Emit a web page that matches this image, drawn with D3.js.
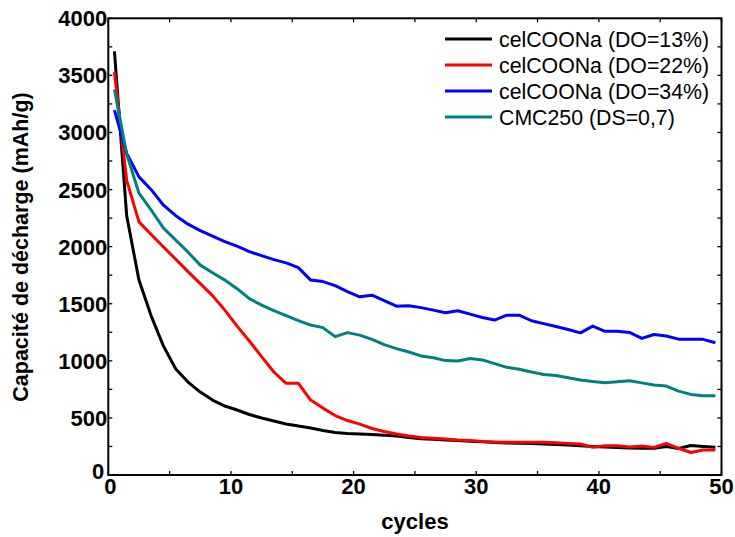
<!DOCTYPE html>
<html><head><meta charset="utf-8">
<script src="https://cdn.jsdelivr.net/npm/d3@7"></script>
<style>body{margin:0;background:#fff}svg{display:block}</style>
</head><body><svg id="c" width="735" height="537"></svg>
<script>
const cycles = [0.5,1.5,2.5,3.5,4.5,5.5,6.5,7.5,8.5,9.5,10.5,11.5,12.5,13.5,14.5,15.5,16.5,17.5,18.5,19.5,20.5,21.5,22.5,23.5,24.5,25.5,26.5,27.5,28.5,29.5,30.5,31.5,32.5,33.5,34.5,35.5,36.5,37.5,38.5,39.5,40.5,41.5,42.5,43.5,44.5,45.5,46.5,47.5,48.5,49.5];
const seriesNames = ["celCOONa (DO=13%)","celCOONa (DO=22%)","celCOONa (DO=34%)","CMC250 (DS=0,7)"];
const do13 = [3711,2270,1707,1392,1129,928,814,726,656,604,569,530,499,473,446,429,411,390,372,363,359,354,348,341,328,318,312,306,302,295,291,284,280,277,276,271,267,263,256,249,245,241,236,234,234,249,232,258,249,242];
const do22 = [3530,2580,2217,2106,1997,1890,1781,1676,1571,1444,1304,1173,1037,902,803,803,656,586,521,477,446,407,381,359,341,328,321,315,306,302,293,289,286,286,286,286,282,277,271,242,256,256,245,254,242,277,234,197,219,219];
const do34 = [3195,2816,2611,2499,2363,2271,2197,2140,2092,2044,2004,1956,1921,1886,1858,1816,1707,1694,1659,1606,1561,1575,1527,1479,1482,1466,1444,1421,1438,1409,1379,1357,1400,1400,1351,1326,1300,1274,1245,1304,1258,1260,1249,1196,1231,1217,1190,1190,1188,1158];
const cmc250 = [3376,2810,2468,2320,2162,2057,1952,1838,1772,1707,1632,1545,1488,1440,1396,1352,1313,1291,1212,1247,1225,1188,1142,1107,1077,1043,1027,1002,998,1021,1008,976,943,926,902,881,871,852,832,818,808,817,825,807,788,779,735,706,694,694];
const colors = ["#000000","#ff0000","#0000ff","#008080"];
const xTicks = [0,10,20,30,40,50];
const yTicks = [0,500,1000,1500,2000,2500,3000,3500,4000];
const xLabel = "cycles";
const yLabel = "Capacité de décharge (mAh/g)";

const seriesData = [do13, do22, do34, cmc250];
const L = 108.3, R = 721.5, T = 18.3, B = 475;
const svg = d3.select("#c");
const x = d3.scaleLinear().domain([0,50]).range([L,R]);
const y = d3.scaleLinear().domain([0,4000]).range([B,T]);
const font = "Arial, 'Liberation Sans', sans-serif";

// lines
const line = d3.line().x((d,i)=>x(cycles[i])).y(d=>y(d));
seriesData.forEach((s,k)=>{
  svg.append("path").datum(s).attr("d",line).attr("fill","none")
    .attr("stroke",colors[k]).attr("stroke-width",3).attr("stroke-linejoin","round");
});

// frame
svg.append("rect").attr("x",L).attr("y",T).attr("width",R-L).attr("height",B-T)
  .attr("fill","none").attr("stroke","#000").attr("stroke-width",2);

// inward ticks
const g = svg.append("g").attr("stroke","#000").attr("stroke-width",1.3);
d3.range(0,4001,250).forEach(v=>{
  g.append("line").attr("x1",L).attr("x2",L+4).attr("y1",y(v)).attr("y2",y(v));
  g.append("line").attr("x1",R).attr("x2",R-4).attr("y1",y(v)).attr("y2",y(v));
});
d3.range(0,51,5).forEach(v=>{
  g.append("line").attr("x1",x(v)).attr("x2",x(v)).attr("y1",B).attr("y2",B-4);
  g.append("line").attr("x1",x(v)).attr("x2",x(v)).attr("y1",T).attr("y2",T+4);
});

// tick labels
svg.selectAll(".yt").data(yTicks).enter().append("text")
  .attr("x",d=>d===0?L-4:L-1).attr("y",d=>y(d)+(d===0?4:8)).attr("text-anchor","end")
  .attr("font-family",font).attr("font-weight","bold").attr("font-size",22).text(d=>d);
svg.selectAll(".xt").data(xTicks).enter().append("text")
  .attr("x",d=>d===0?x(d)+2:x(d)).attr("y",B+19).attr("text-anchor","middle")
  .attr("font-family",font).attr("font-weight","bold").attr("font-size",22).text(d=>d);

// axis titles
svg.append("text").attr("x",415).attr("y",529).attr("text-anchor","middle")
  .attr("font-family",font).attr("font-weight","bold").attr("font-size",22).text(xLabel);
svg.append("text").attr("transform","translate(28,247) rotate(-90)").attr("text-anchor","middle")
  .attr("font-family",font).attr("font-weight","bold").attr("font-size",21.5).text(yLabel);

// legend
seriesNames.forEach((n,k)=>{
  const yy = 39 + k*26;
  svg.append("line").attr("x1",445).attr("x2",492).attr("y1",yy).attr("y2",yy)
    .attr("stroke",colors[k]).attr("stroke-width",3);
  svg.append("text").attr("x",499).attr("y",yy+7.5).attr("font-family",font)
    .attr("font-size",21.3).text(n);
});
</script></body></html>
